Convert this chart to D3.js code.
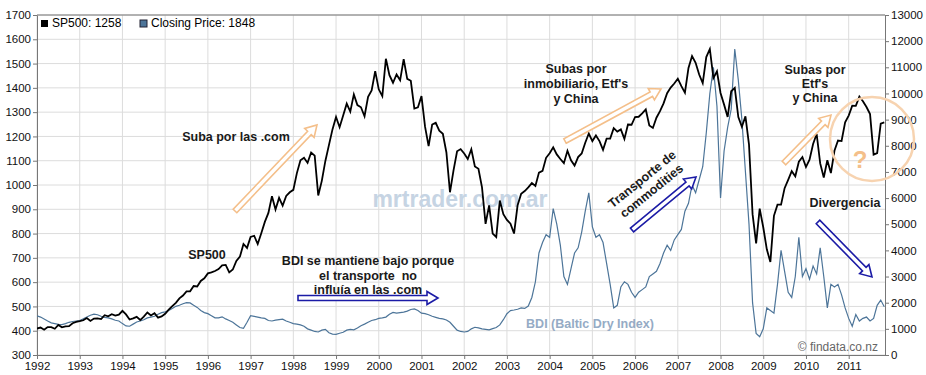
<!DOCTYPE html>
<html>
<head>
<meta charset="utf-8">
<script src="https://cdn.jsdelivr.net/npm/d3@7"></script>
<style>
  body { margin: 0; background: #fff; }
  svg { display: block; font-family: "Liberation Sans", Arial, sans-serif; }
</style>
</head>
<body>
<svg id="chart"></svg>
<script>
// monthly closes, starting Jan 1992
let spStart = 1992;
let sp500 = [
  409, 413, 404, 415, 415, 408, 424, 414, 418, 419, 431, 436,
  439, 443, 452, 440, 450, 451, 448, 464, 459, 468, 462, 466,
  482, 467, 446, 451, 457, 444, 458, 475, 463, 472, 454, 459,
  470, 487, 501, 515, 533, 545, 562, 562, 584, 582, 605, 616,
  636, 640, 646, 654, 669, 671, 640, 652, 687, 705, 757, 741,
  786, 791, 757, 801, 848, 885, 954, 899, 947, 915, 955, 970,
  980, 1049, 1102, 1112, 1091, 1134, 1121, 957, 1017, 1099, 1164, 1229,
  1280, 1238, 1286, 1335, 1302, 1373, 1329, 1320, 1283, 1363, 1389, 1469,
  1394, 1366, 1520, 1452, 1421, 1455, 1431, 1518, 1437, 1429, 1315, 1320,
  1366, 1240, 1160, 1249, 1256, 1224, 1211, 1134, 970, 1060, 1139, 1148,
  1130, 1107, 1147, 1076, 1067, 990, 840, 916, 800, 786, 936, 880,
  856, 841, 800, 917, 964, 975, 990, 1008, 996, 1051, 1058, 1112,
  1131, 1155, 1126, 1107, 1090, 1141, 1102, 1080, 1115, 1130, 1174, 1212,
  1181, 1204, 1181, 1145, 1191, 1191, 1234, 1220, 1229, 1190, 1249, 1248,
  1280, 1281, 1295, 1311, 1245, 1235, 1277, 1304, 1336, 1378, 1401, 1418,
  1438, 1407, 1380, 1482, 1531, 1503, 1455, 1420, 1527, 1560, 1440, 1468,
  1379, 1331, 1280, 1386, 1400, 1280, 1240, 1283, 1166, 880, 760, 903,
  826, 735, 683, 873, 919, 919, 987, 1021, 1057, 1036, 1096, 1115,
  1074, 1104, 1169, 1210, 1089, 1031, 1102, 1049, 1141, 1183, 1181, 1258,
  1286, 1327, 1326, 1364, 1345, 1321, 1292, 1125, 1131, 1253, 1258
];

let bdiStart = 1992;
let bdi = [
  1500, 1450, 1380, 1300, 1230, 1200, 1170, 1160, 1200, 1250, 1280, 1300,
  1320, 1380, 1450, 1520, 1560, 1540, 1480, 1440, 1420, 1380, 1330, 1300,
  1200, 1110, 1100, 1180, 1260, 1300, 1350, 1420, 1450, 1480, 1560, 1620,
  1650, 1700, 1780, 1860, 1900, 1960, 2000, 1990, 1900, 1820, 1700, 1620,
  1580, 1500, 1420, 1420, 1460, 1380, 1320, 1250, 1150, 1050, 1020, 1250,
  1500, 1480, 1450, 1420, 1400, 1320, 1300, 1330, 1350, 1370, 1300, 1250,
  1200, 1180, 1150, 1100, 1000, 950, 900, 880, 950, 980, 850, 800,
  790, 830, 870, 950, 980, 960, 1030, 1120, 1180, 1250, 1320, 1350,
  1400, 1420, 1450, 1560, 1630, 1600, 1620, 1640, 1680, 1740, 1760, 1700,
  1600, 1580, 1540, 1480, 1440, 1400, 1380, 1340, 1250, 1100, 950, 900,
  880, 900, 1000, 1060, 1040, 1000, 980, 960, 1010, 1050, 1150, 1350,
  1580, 1700, 1720, 1750, 1800, 1780, 1870, 2200, 2800, 3900, 4300, 4600,
  4500, 5600, 5000, 4200, 3000, 2700, 3300, 3900, 4100, 4700, 5500, 6200,
  4900, 4500, 4600, 4300, 3500, 2700, 1800, 1900, 2600, 2800, 2700, 2400,
  2200, 2400, 2500, 2600, 3000, 3100, 3200, 3500, 3900, 4200, 4000, 4400,
  4600, 4800, 5500, 5800, 6500, 6200, 6700, 7200, 8500, 10000, 11000, 9500,
  6000, 7800, 8700, 9400, 11700, 10500, 9000, 7000, 5000, 2000, 820, 700,
  1000, 1800, 1700, 1600, 2700, 4000, 3200, 2400, 2200, 3000, 4500, 3000,
  3300, 2900, 3400, 3100, 4100, 3000, 1800, 2700, 2600, 2700, 2300, 1800,
  1400, 1100, 1550, 1300, 1400, 1450, 1300, 1400, 1900, 2100, 1848
];

let years = d3.range(1992, 2012);
let leftTicks = d3.range(300, 1701, 100);
let rightTicks = d3.range(0, 13001, 1000);

let w = 926, h = 375;
let x0 = 37, x1 = 885, yTop = 15, yBot = 355;

let svg = d3.select("#chart").attr("width", w).attr("height", h);

let x = d3.scaleLinear().domain([1992, 2011.85]).range([x0, x1]);
let yL = d3.scaleLinear().domain([300, 1700]).range([yBot, yTop]);
let yR = d3.scaleLinear().domain([0, 13000]).range([yBot, yTop]);

// grid
svg.append("g").selectAll("line").data(leftTicks).enter().append("line")
  .attr("x1", x0).attr("x2", x1)
  .attr("y1", d => yL(d)).attr("y2", d => yL(d))
  .attr("stroke", "#dcdcdc");
svg.append("g").selectAll("line").data(years).enter().append("line")
  .attr("x1", d => x(d)).attr("x2", d => x(d))
  .attr("y1", yTop).attr("y2", yBot)
  .attr("stroke", "#dcdcdc");

// watermark
svg.append("text").attr("x", 460).attr("y", 207)
  .attr("text-anchor", "middle")
  .style("font-size", "23px").style("font-weight", "bold")
  .attr("fill", "#c6d4e3")
  .text("mrtrader.com.ar");

// axes
let fmt = d3.format("d");
let axL = svg.append("g").attr("transform", `translate(${x0},0)`)
  .call(d3.axisLeft(yL).tickValues(leftTicks).tickFormat(fmt).tickSize(4).tickSizeOuter(0).tickPadding(2));
let axR = svg.append("g").attr("transform", `translate(${x1},0)`)
  .call(d3.axisRight(yR).tickValues(rightTicks).tickFormat(fmt).tickSize(4).tickSizeOuter(0).tickPadding(2));
let axB = svg.append("g").attr("transform", `translate(0,${yBot})`)
  .call(d3.axisBottom(x).tickValues(years).tickFormat(fmt).tickSize(4).tickSizeOuter(0).tickPadding(3));
[axL, axR, axB].forEach(a => {
  a.selectAll("path, line").attr("stroke", "#777");
  a.selectAll("text").style("font-size", "11.5px").attr("fill", "#111");
});
svg.append("line").attr("x1", x0).attr("x2", x1).attr("y1", yTop).attr("y2", yTop)
  .attr("stroke", "#777");

svg.append("clipPath").attr("id", "clip").append("rect")
  .attr("x", x0).attr("y", yTop).attr("width", x1 - x0).attr("height", yBot - yTop);

let bdiLine = d3.line().x((d, i) => x(bdiStart + i / 12)).y(d => yR(d));
let spLine = d3.line().x((d, i) => x(spStart + i / 12)).y(d => yL(d));

svg.append("path").datum(bdi).attr("d", bdiLine)
  .attr("fill", "none").attr("stroke", "#4d7599").attr("stroke-width", 1.2)
  .attr("clip-path", "url(#clip)");
svg.append("path").datum(sp500).attr("d", spLine)
  .attr("fill", "none").attr("stroke", "#000").attr("stroke-width", 1.8)
  .attr("clip-path", "url(#clip)");

// legend
svg.append("rect").attr("x", 41).attr("y", 20).attr("width", 7).attr("height", 7).attr("fill", "#000");
svg.append("text").attr("x", 52).attr("y", 27).style("font-size", "12px").text("SP500: 1258");
svg.append("rect").attr("x", 140).attr("y", 20).attr("width", 7).attr("height", 7)
  .attr("fill", "#4d7599").attr("stroke", "#223");
svg.append("text").attr("x", 151).attr("y", 27).style("font-size", "12px").text("Closing Price: 1848");

// hollow arrows
function arrow(p, q, color) {
  let dx = q[0] - p[0], dy = q[1] - p[1];
  let len = Math.hypot(dx, dy);
  let ux = dx / len, uy = dy / len, nx = -uy, ny = ux;
  let sw = 2.5, hl = 11, hw = 6.5;
  let bx = q[0] - ux * hl, by = q[1] - uy * hl;
  let pts = [
    [p[0] + nx * sw, p[1] + ny * sw],
    [bx + nx * sw, by + ny * sw],
    [bx + nx * hw, by + ny * hw],
    q,
    [bx - nx * hw, by - ny * hw],
    [bx - nx * sw, by - ny * sw],
    [p[0] - nx * sw, p[1] - ny * sw]
  ];
  svg.append("polygon").attr("points", pts.map(d => d.join(",")).join(" "))
    .attr("fill", "#fff").attr("stroke", color).attr("stroke-width", 1.6)
    .attr("stroke-linejoin", "miter");
}
let orange = "#f4bf8a", blue = "#1b1ba6";
arrow([235, 211], [317, 125], orange);
arrow([565, 141], [661, 89], orange);
arrow([784, 163], [831, 115], orange);
arrow([298, 298], [438, 298], blue);
arrow([632, 230], [696, 177], blue);
arrow([818, 222], [872, 277], blue);

// question circle
svg.append("circle").attr("cx", 872).attr("cy", 139).attr("r", 42)
  .attr("fill", "none").attr("stroke", "#f7d3b0").attr("stroke-width", 2.5);
svg.append("text").attr("x", 860).attr("y", 168).attr("text-anchor", "middle")
  .style("font-size", "24px").style("font-weight", "bold").attr("fill", "#f4bf8a").text("?");

// annotations
function label(lines, cx, y0, lh) {
  let t = svg.append("text").attr("text-anchor", "middle")
    .style("font-size", "12.5px").style("font-weight", "bold").attr("fill", "#1a1a1a")
    .style("white-space", "pre");
  lines.forEach((s, i) => t.append("tspan").attr("x", cx).attr("y", y0 + i * lh).text(s));
  return t;
}
label(["Suba por las .com"], 236, 141, 0);
label(["SP500"], 207, 259, 0);
label(["BDI se mantiene bajo porque", "el transporte  no", "influía en las .com"], 368, 265, 14.5);
label(["Subas por", "inmobiliario, Etf's", "y China"], 576, 73, 15);
label(["Subas por", "Etf's", "y China"], 815, 74, 14);
label(["Divergencia"], 845, 207, 0);

let tr = svg.append("text").attr("text-anchor", "middle")
  .attr("transform", "translate(646,184) rotate(-39)")
  .style("font-size", "12.5px").style("font-weight", "bold").attr("fill", "#1a1a1a");
tr.append("tspan").attr("x", 0).attr("y", -2).text("Transporte de");
tr.append("tspan").attr("x", 0).attr("y", 13).text("commodities");

svg.append("text").attr("x", 590).attr("y", 328).attr("text-anchor", "middle")
  .style("font-size", "12.5px").style("font-weight", "bold").attr("fill", "#95abc5")
  .text("BDI (Baltic Dry Index)");

svg.append("text").attr("x", 878).attr("y", 351).attr("text-anchor", "end")
  .style("font-size", "12px").attr("fill", "#666")
  .text("© findata.co.nz");
</script>
</body>
</html>
